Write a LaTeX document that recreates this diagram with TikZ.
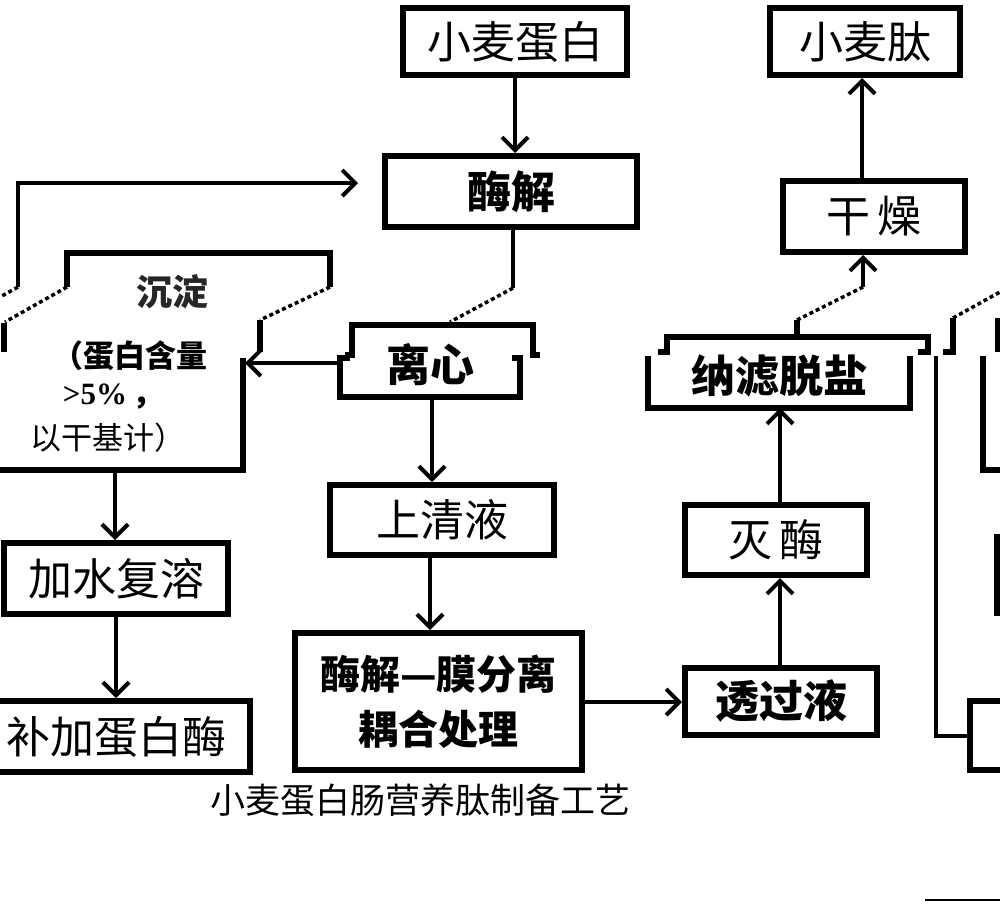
\documentclass[tikz,border=0pt]{standalone}
\usepackage{fontspec}
\setmainfont{Liberation Serif}
\newfontfamily\cjk{Noto Sans CJK SC}
\usetikzlibrary{arrows.meta}
\begin{document}
\begin{tikzpicture}[x=1pt,y=-1pt,
  box/.style={draw,line width=6pt,inner sep=0pt,font=\cjk\fontsize{44}{50}\selectfont},
  t/.style={inner sep=0pt,font=\cjk\fontsize{44}{50}\selectfont},
  ts/.style={inner sep=0pt,font=\cjk\fontsize{31}{36}\selectfont},
  edge/.style={line width=6pt},
  conn/.style={line width=4pt},
  arr/.style={conn,-{Straight Barb[length=13pt,width=26pt]}},
  dot/.style={line width=3.5pt,dash pattern=on 4pt off 3pt}]
\clip (0,0) rectangle (1000,903);
\fill[white] (0,0) rectangle (1000,903);

% regular boxes
\node[box,minimum width=224pt,minimum height=67pt] (wp) at (515,41.5) {小麦蛋白};
\node[box,minimum width=252pt,minimum height=71pt] (jie) at (511,191.5) {\bfseries 酶解};
\node[box,minimum width=224pt,minimum height=70pt] (sq) at (442,520) {上清液};
\node[box,minimum width=287pt,minimum height=137pt,align=center,font=\cjk\fontsize{40}{55}\selectfont] (mf) at (438.5,701.5) {\bfseries 酶解—膜分离\\\bfseries 耦合处理};
\node[box,minimum width=192pt,minimum height=67pt] (tg) at (781,701.5) {\bfseries 透过液};
\node[box,minimum width=182pt,minimum height=70pt] (mm) at (776,540) {灭\,酶};
\node[box,minimum width=182pt,minimum height=71pt] (gz) at (874,216.5) {干\,燥};
\node[box,minimum width=190pt,minimum height=67pt] (wt) at (865,41.5) {小麦肽};
\node[box,minimum width=224pt,minimum height=71pt] (js) at (116,578.5) {加水复溶};
\node[box,minimum width=267pt,minimum height=71pt] (bj) at (116.5,736.5) {补加蛋白酶};
\node[box,minimum width=67pt,minimum height=69pt] (rb) at (1003.5,735.5) {};
\draw[edge] (997,537) rectangle (1040,613);

% broken box: centrifuge
\draw[edge] (345,355) -- (352,355) -- (352,325) -- (533,325) -- (533,355) -- (540,355);
\draw[edge] (350,358) -- (340,358) -- (340,397) -- (520,397) -- (520,358) -- (512,358);
\node[t] (lx) at (430,365) {\bfseries 离心};
\coordinate (lxN) at (450,322);
\coordinate (lxW) at (340,363);
\coordinate (lxS) at (432,397);

% broken box: nanofiltration
\draw[edge] (658,352) -- (667,352) -- (667,337) -- (928,337) -- (928,352) -- (918,352);
\draw[edge] (648,356) -- (648,408) -- (910,408) -- (910,356);
\node[t] (nl) at (779,376) {\bfseries 纳滤脱盐};
\coordinate (nlN) at (797,337);
\coordinate (nlS) at (780,408);

% broken box: precipitate
\draw[edge] (67,287) -- (67,253) -- (330,253) -- (330,287);
\draw[dot] (67,287) -- (5,322);
\draw[dot] (330,287) -- (260,320);
\draw[edge] (260,320) -- (260,352);
\draw[edge] (4,323) -- (4,352);
\draw[edge] (-10,470) -- (243,470) -- (243,358);
\node[inner sep=0pt,font=\cjk\fontsize{36}{38}\selectfont,black!85] (cdT) at (172,292) {\bfseries 沉淀};
\node[ts] (cd1) at (130,356) {\bfseries （蛋白含量};
\node[inner sep=0pt,font=\fontsize{31}{36}\selectfont] (cd2) at (113,397) {\bfseries >5\%\,{\cjk ，}};
\node[ts] (cd3) at (108,438) {以干基计）};
\coordinate (cdE) at (245,363);
\coordinate (cdS) at (115,470);

% connectors
\draw[arr] (wp.south -| jie.north) ++(4,0) coordinate (a1) -- (a1 |- jie.north);
\coordinate (j1) at (513,288);
\draw[conn] (jie.south -| j1) -- (j1);
\draw[dot] (j1) -- (lxN);
\draw[arr] (lxW) -- (cdE);
\draw[arr] (cdS) -- (cdS |- js.north);
\draw[arr] (js.south) -- (js.south |- bj.north);
\draw[arr] (lxS) -- (lxS |- sq.north);
\coordinate (s1) at (430,558);
\draw[arr] (s1) -- (s1 |- mf.north);
\coordinate (m1) at (585,702);
\draw[arr] (m1) -- (m1 -| tg.west);
\draw[arr] (tg.north -| nlS) -- (nlS |- mm.south);
\draw[arr] (mm.north -| nlS) -- (nlS);
\coordinate (n1) at (797,320);
\coordinate (g1) at (863,287);
\draw[edge] (nlN) -- (n1);
\draw[dot] (n1) -- (g1);
\draw[arr] (g1) -- (g1 |- gz.south);
\coordinate (g2) at (862,178);
\draw[arr] (g2) -- (g2 |- wt.south);
\coordinate (fb0) at (18,287);
\coordinate (fbt) at (358,183);
\coordinate (fbd) at (0,297);
\draw[arr] (fb0) |- (fbt);
\draw[dot] (fb0) -- (fbd);
\coordinate (r1) at (936,356);
\draw[conn] (r1) |- (rb.west);

% right-edge fragments
\draw[edge] (943,352) -- (953,352) -- (953,318);
\coordinate (d1) at (953,318);
\coordinate (d2) at (1000,292);
\draw[dot] (d1) -- (d2);
\draw[edge] (998,318) -- (998,352);
\draw[edge] (983,356) -- (983,470) -- (1010,470);

% caption
\node[inner sep=0pt,font=\cjk\fontsize{35}{40}\selectfont] (cap) at (420,800) {小麦蛋白肠营养肽制备工艺};
\draw[line width=2pt] (925,900) -- (1000,900);
\end{tikzpicture}
\end{document}
